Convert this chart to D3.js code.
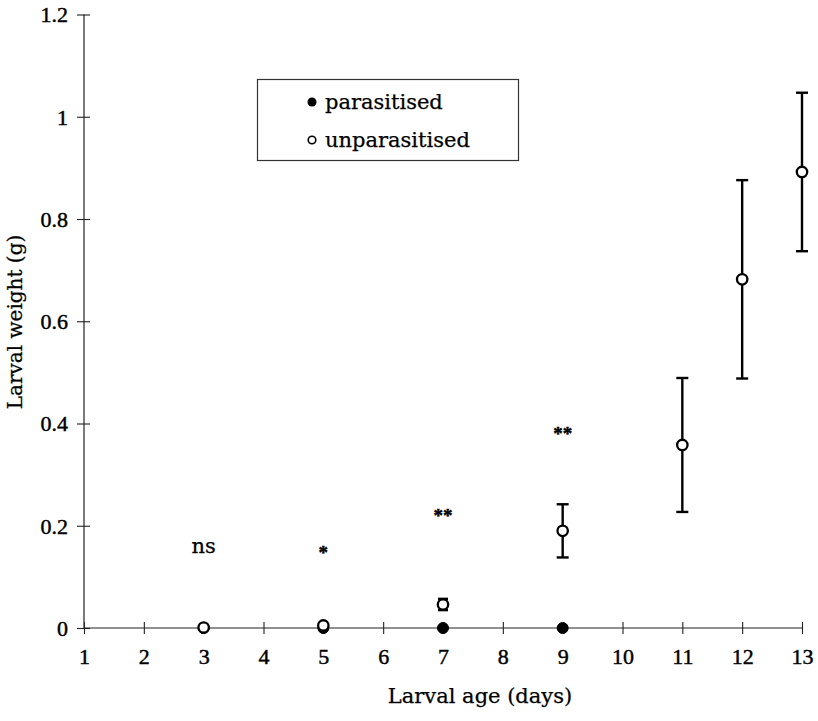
<!DOCTYPE html>
<html>
<head>
<meta charset="utf-8">
<script src="https://cdn.jsdelivr.net/npm/d3@7/dist/d3.min.js"></script>
<style>
  html, body { margin: 0; padding: 0; background: #fff; }
  svg { display: block; }
  .word { font-family: "DejaVu Serif", "Liberation Serif", serif; fill: #000; stroke: #000; stroke-width: 0.25px; }
  .num { font-family: "Liberation Serif", "DejaVu Serif", serif; fill: #000; stroke: #000; stroke-width: 0.45px; }
</style>
</head>
<body>
<svg id="chart" width="818" height="721"></svg>
<script>
// ---- data ----
const xTickValues = [1,2,3,4,5,6,7,8,9,10,11,12,13];
const yTickValues = [0, 0.2, 0.4, 0.6, 0.8, 1, 1.2];
const yTickLabels = ["0", "0.2", "0.4", "0.6", "0.8", "1", "1.2"];

const unparDays = [3, 5, 7, 9, 11, 12, 13];
const unparasitised = [0.001, 0.005, 0.046, 0.19, 0.358, 0.682, 0.892];
const unparErr = [0, 0, 0.011, 0.052, 0.131, 0.194, 0.155];

const parDays = [3, 5, 7, 9];
const parasitised = [0, 0, 0, 0];

const sigDays = [3, 5, 7, 9];
const sigLabels = ["ns", "*", "**", "**"];
const sigHeights = [0.158, 0.155, 0.227, 0.387];

const legendLabels = ["parasitised", "unparasitised"];

// ---- layout ----
const svg = d3.select("#chart");
const x = d3.scaleLinear().domain([1, 13]).range([84, 802]);
const y = d3.scaleLinear().domain([0, 1.2]).range([628, 14.5]);

// x axis
const gx = svg.append("g").attr("transform", `translate(0,${y(0)})`)
  .call(d3.axisBottom(x).tickValues(xTickValues).tickSize(6).tickFormat(d3.format("d")));
gx.select(".domain").attr("stroke", "#222").attr("stroke-width", 1.2).attr("d", `M${x(1)},0H${x(13)}`);
gx.selectAll(".tick line").attr("y1", -6).attr("y2", 6).attr("stroke", "#222").attr("stroke-width", 1.1);
gx.selectAll(".tick text").attr("class", "num").attr("y", 20).attr("dy", "0.71em")
  .style("font-size", "22px");

// y axis
const gy = svg.append("g").attr("transform", `translate(${x(1)},0)`)
  .call(d3.axisLeft(y).tickValues(yTickValues).tickSize(6)
    .tickFormat((d, i) => yTickLabels[i]));
gy.select(".domain").attr("stroke", "#333").attr("stroke-width", 1.3).attr("d", `M0,${y(0)}V${y(1.2)}`);
gy.selectAll(".tick line").attr("x1", -7).attr("x2", 6).attr("stroke", "#222").attr("stroke-width", 1.1);
gy.selectAll(".tick text").attr("class", "num").attr("x", -16).attr("dy", "0.34em")
  .style("font-size", "22px");
svg.selectAll(".tick text").attr("font-family", null).attr("font-size", null).attr("fill", null);

// axis titles
svg.append("text").attr("class", "word")
  .attr("x", 480).attr("y", 703).attr("text-anchor", "middle")
  .style("font-size", "21px").text("Larval age (days)");
svg.append("text").attr("class", "word")
  .attr("transform", `translate(22,322) rotate(-90)`).attr("text-anchor", "middle")
  .style("font-size", "20px").text("Larval weight (g)");

// error bars (unparasitised)
const errData = unparDays.map((d, i) => ({day: d, v: unparasitised[i], e: unparErr[i]})).filter(d => d.e > 0);
const eb = svg.append("g").attr("stroke", "#000").attr("stroke-width", 2.4).attr("fill", "none");
errData.forEach(d => {
  const cx = x(d.day), capW = d.e < 0.02 ? 5 : 6;
  eb.append("line").attr("x1", cx).attr("x2", cx).attr("y1", y(d.v + d.e)).attr("y2", y(d.v - d.e));
  eb.append("line").attr("x1", cx - capW).attr("x2", cx + capW).attr("y1", y(d.v + d.e)).attr("y2", y(d.v + d.e));
  eb.append("line").attr("x1", cx - capW).attr("x2", cx + capW).attr("y1", y(d.v - d.e)).attr("y2", y(d.v - d.e));
});

// parasitised points (filled)
svg.append("g").selectAll("circle").data(parDays).join("circle")
  .attr("cx", d => x(d)).attr("cy", (d, i) => y(parasitised[i]))
  .attr("r", 5.5).attr("fill", "#000").attr("stroke", "#000").attr("stroke-width", 1);

// unparasitised points (open)
svg.append("g").selectAll("circle").data(unparDays).join("circle")
  .attr("cx", d => x(d)).attr("cy", (d, i) => y(unparasitised[i]))
  .attr("r", 5.2).attr("fill", "#fff").attr("stroke", "#000").attr("stroke-width", 2.3);

// significance labels
svg.append("g").selectAll("text").data(sigDays).join("text")
  .attr("class", (d, i) => sigLabels[i] === "ns" ? "word" : "num")
  .attr("x", d => x(d)).attr("y", (d, i) => y(sigHeights[i]) + (sigLabels[i] === "ns" ? 6 : 10))
  .attr("text-anchor", "middle")
  .style("font-size", (d, i) => sigLabels[i] === "ns" ? "21px" : "19px")
  .style("font-weight", (d, i) => sigLabels[i] === "ns" ? "normal" : "bold")
  .text((d, i) => sigLabels[i]);

// legend
const lg = svg.append("g");
lg.append("rect").attr("x", 257.5).attr("y", 79.5).attr("width", 261).attr("height", 81)
  .attr("fill", "#fff").attr("stroke", "#333").attr("stroke-width", 1.2);
lg.append("circle").attr("cx", 312).attr("cy", 102).attr("r", 4.5).attr("fill", "#000");
lg.append("circle").attr("cx", 312).attr("cy", 140).attr("r", 3.8).attr("fill", "#fff")
  .attr("stroke", "#000").attr("stroke-width", 1.6);
lg.selectAll("text.lt").data(legendLabels).join("text").attr("class", "word lt")
  .attr("x", 325).attr("y", (d, i) => 109 + i * 38)
  .style("font-size", "21px").text(d => d);
</script>
</body>
</html>
